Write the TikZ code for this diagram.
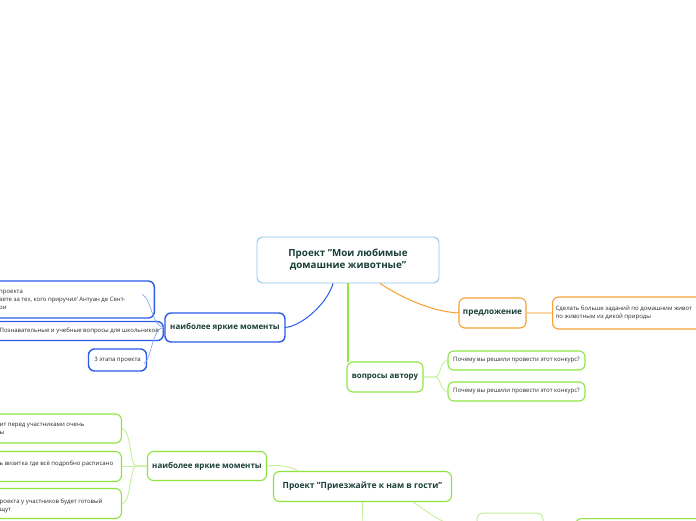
\documentclass[tikz,border=0pt]{standalone}
\usepackage{fontspec}
\setmainfont{Open Sans}
\usetikzlibrary{calc}
\definecolor{cblue}{HTML}{2A5BEA}
\definecolor{clightblue}{HTML}{8CC4EC}
\definecolor{cthinblue}{HTML}{7F9DF0}
\definecolor{cgreen}{HTML}{8EE53F}
\definecolor{clightgreen}{HTML}{C4F09A}
\definecolor{corange}{HTML}{F7A030}
\definecolor{clightorange}{HTML}{FBD7A8}
\definecolor{ctext}{HTML}{1A3F38}
\definecolor{csmall}{HTML}{2A2A2A}
\tikzset{
  box/.style={draw, fill=white, rounded corners=6pt, inner sep=0pt},
  title/.style={font=\bfseries\fontsize{8.5}{11}\selectfont, text=ctext},
  small/.style={font=\fontsize{6}{8}\selectfont, text=csmall, align=left, inner sep=0pt},
  bluebox/.style={box, draw=cblue, line width=1.4pt},
  greenbox/.style={box, draw=cgreen, line width=1.1pt},
  orangebox/.style={box, draw=corange, line width=1.1pt},
  bluecon/.style={draw=cblue, line width=1pt},
  thinblue/.style={draw=cthinblue, line width=0.6pt},
  greencon/.style={draw=cgreen, line width=1.2pt},
  lgreencon/.style={draw=clightgreen, line width=0.9pt},
  orangecon/.style={draw=corange, line width=1pt},
  lorangecon/.style={draw=clightorange, line width=1.2pt}
}
\begin{document}
\begin{tikzpicture}[x=1pt,y=-1pt]
\useasboundingbox (0,0) rectangle (696,520);
\clip (0,0) rectangle (696,520);
\fill[white] (0,0) rectangle (696,520);

% main node
\node[box, draw=clightblue, line width=0.9pt, minimum width=182pt, minimum height=46pt,
      font=\bfseries\fontsize{9.8}{12}\selectfont, text=ctext, align=center] (main) at (348,260)
      {Проект "Мои любимые\\домашние животные"};

% connectors from main
\draw[bluecon] ($(main.south)+(-15,0)$) .. controls (328,302) and (303,326) .. (285,327.5) coordinate (nhyin);
\draw[greencon] (main.south) -- (main.south |- 0,362) coordinate (vain);
\draw[orangecon] ($(main.south)+(32,0)$) .. controls (405,300) and (435,312) .. (459,313) coordinate (prin);

% blue cluster
\node[bluebox, minimum width=200pt, minimum height=37pt, anchor=east] (b1) at (155,299.5) {};
\node[small, anchor=west] (b1t) at (-1,300.5) {проекта\\вете за тех, кого приручил' Антуан де Сент-\\ри};
\node[bluebox, minimum width=200pt, minimum height=19pt, anchor=east] (b2) at (164,331) {};
\node[small, anchor=west] (b2t) at (-0.5,331) {Познавательные и учебные вопросы для школьников};
\node[bluebox, minimum width=58pt, minimum height=22pt, small] (b3) at (117.5,360) {3 этапа проекта};
\node[bluebox, minimum width=120pt, minimum height=29pt, title, font=\bfseries\fontsize{8}{10}\selectfont] (nhy1) at (225,327.5) {наиболее яркие моменты};
\coordinate (c1) at (142,294);
\coordinate (c3) at (144,364);
\draw[thinblue] (nhy1.west) .. controls (152,327) and (152,300) .. (c1);
\draw[thinblue] (nhy1.west) -- (b2.east);
\draw[thinblue] (nhy1.west) .. controls (152,327) and (152,358) .. (c3);

% orange cluster
\node[orangebox, minimum width=67pt, minimum height=30pt, title, font=\bfseries\fontsize{8.2}{10}\selectfont] (pr) at (492.5,313) {предложение};
\node[orangebox, minimum width=200pt, minimum height=32pt, anchor=west] (s1) at (552,313) {};
\node[small, anchor=west] (s1t) at (555.5,313) {Сделать больше заданий по домашним живот\\по животным из дикой природы};
\draw[lorangecon] (pr.east) -- (s1.west);

% questions cluster
\node[greenbox, minimum width=76pt, minimum height=30pt, title, font=\bfseries\fontsize{7.9}{10}\selectfont] (va) at (385,377) {вопросы автору};
\node[greenbox, minimum width=137pt, minimum height=19pt, small] (q1) at (516.5,360.5) {Почему вы решили провести этот конкурс?};
\node[greenbox, minimum width=137pt, minimum height=19pt, small] (q2) at (516.5,391.5) {Почему вы решили провести этот конкурс?};
\draw[lgreencon] (va.east) -- (435,377) .. controls (441,377) and (440,360.5) .. (q1.west);
\draw[lgreencon] (va.east) -- (435,377) .. controls (441,377) and (440,391.5) .. (q2.west);

% second project
\node[greenbox, minimum width=178pt, minimum height=30pt, title] (proj2) at (362.5,486.5) {Проект "Приезжайте к нам в гости"};
\node[greenbox, minimum width=119pt, minimum height=29pt, title, font=\bfseries\fontsize{8}{10}\selectfont] (nhy2) at (207,466) {наиболее яркие моменты};
\draw[lgreencon] (nhy2.east) .. controls (282,464) and (292,468) .. ($(proj2.north west)+(26,0)$);

\node[greenbox, minimum width=200pt, minimum height=29pt, anchor=east] (g1) at (122,428.5) {};
\node[small, anchor=west] (g1t) at (-0.5,429) {ит перед участниками очень\\ы};
\node[greenbox, minimum width=200pt, minimum height=30pt, anchor=east] (g2) at (122,466.5) {};
\node[small, anchor=west] (g2t) at (-0.5,463.5) {ь визитка где всё подробно расписано};
\node[greenbox, minimum width=200pt, minimum height=30pt, anchor=east] (g3) at (122,503.5) {};
\node[small, anchor=west] (g3t) at (-0.5,506) {роекта у участников будет готовый\\щут};
\draw[lgreencon] (nhy2.west) -- (136,466) .. controls (130,466) and (131,428.5) .. (g1.east);
\draw[lgreencon] (nhy2.west) -- (g2.east);
\draw[lgreencon] (nhy2.west) -- (136,466) .. controls (130,466) and (131,503.5) .. (g3.east);

% bottom children
\node[box, draw=clightgreen, line width=1pt, minimum width=66pt, minimum height=34pt] (bA) at (510,530) {};
\node[greenbox, minimum width=150pt, minimum height=34pt, anchor=north west] (bB) at (575,518) {};
\coordinate (below) at (363,540);
\draw[lgreencon] (proj2.south) -- (below);
\draw[lgreencon] ($(proj2.south)+(51,0)$) .. controls (428,512) and (445,528) .. (bA.west);
\end{tikzpicture}
\end{document}
